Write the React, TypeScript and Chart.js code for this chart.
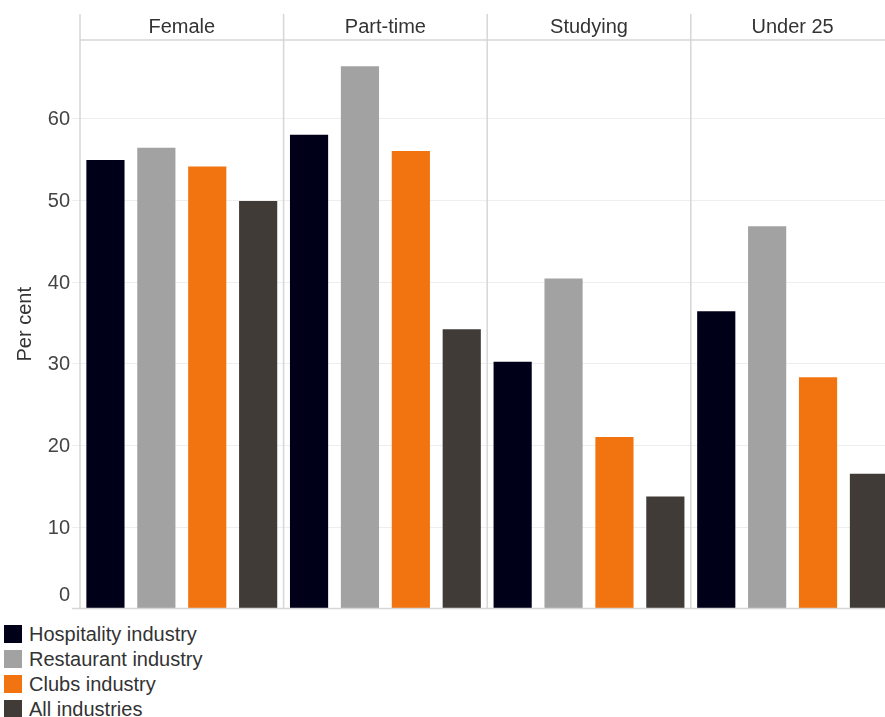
import React, { useEffect, useRef } from "react";
import { Chart, registerables } from "chart.js";

Chart.register(...registerables);

const categories = ["Female", "Part-time", "Studying", "Under 25"];
const seriesNames = ["Hospitality industry", "Restaurant industry", "Clubs industry", "All industries"];
const hospitality = [54.9, 58.0, 30.2, 36.4];
const restaurant = [56.4, 66.4, 40.4, 46.8];
const clubs = [54.1, 56.0, 21.0, 28.3];
const allIndustries = [49.9, 34.2, 13.7, 16.5];
const yTicks = [0, 10, 20, 30, 40, 50, 60];
const yTitle = "Per cent";
const colors = ["#000018", "#a2a2a2", "#f27410", "#403b37"];

const FONT = 'Arial, "Liberation Sans", sans-serif';

const panelPlugin = {
  id: "panelPlugin",
  beforeDatasetsDraw(chart: any) {
    const { ctx, chartArea } = chart;
    const y = chart.scales.y;
    ctx.save();
    ctx.strokeStyle = "#eeeeee";
    ctx.lineWidth = 1;
    yTicks.forEach((v) => {
      if (v === 0) return;
      const py = Math.round(y.getPixelForValue(v)) + 0.5;
      ctx.beginPath();
      ctx.moveTo(chartArea.left - 8, py);
      ctx.lineTo(chartArea.right, py);
      ctx.stroke();
    });
    ctx.restore();
  },
  afterDraw(chart: any) {
    const { ctx, chartArea } = chart;
    const y = chart.scales.y;
    const n = categories.length;
    const w = (chartArea.right - chartArea.left) / n;
    const headerTop = chartArea.top - 26;
    ctx.save();
    // vertical panel lines
    ctx.strokeStyle = "#d6d6d6";
    ctx.lineWidth = 1.5;
    for (let i = 0; i <= n; i++) {
      const px = chartArea.left + i * w;
      ctx.beginPath();
      ctx.moveTo(px, headerTop);
      ctx.lineTo(px, chartArea.bottom);
      ctx.stroke();
    }
    // header line
    ctx.beginPath();
    ctx.moveTo(chartArea.left, chartArea.top);
    ctx.lineTo(chartArea.right, chartArea.top);
    ctx.stroke();
    // bottom axis line
    ctx.beginPath();
    ctx.moveTo(chartArea.left - 8, chartArea.bottom);
    ctx.lineTo(chartArea.right, chartArea.bottom);
    ctx.stroke();
    // panel labels
    ctx.fillStyle = "#333333";
    ctx.font = `20px ${FONT}`;
    ctx.textAlign = "center";
    ctx.textBaseline = "alphabetic";
    categories.forEach((c, i) => {
      ctx.fillText(c, chartArea.left + (i + 0.5) * w, chartArea.top - 7);
    });
    // y tick labels
    ctx.fillStyle = "#444444";
    ctx.textAlign = "right";
    yTicks.forEach((v) => {
      const py = y.getPixelForValue(v);
      const off = v === 0 ? -8 : 7;
      ctx.fillText(String(v), chartArea.left - 10, py + off);
    });
    // y title
    ctx.save();
    ctx.translate(25, (chartArea.top + chartArea.bottom) / 2);
    ctx.rotate(-Math.PI / 2);
    ctx.textAlign = "center";
    ctx.textBaseline = "middle";
    ctx.fillStyle = "#333333";
    ctx.fillText(yTitle, 0, 0);
    ctx.restore();
    ctx.restore();
  },
};

export default function App() {
  const ref = useRef<HTMLCanvasElement | null>(null);
  useEffect(() => {
    if (!ref.current) return;
    const values = [hospitality, restaurant, clubs, allIndustries];
    const chart = new Chart(ref.current, {
      type: "bar",
      data: {
        labels: categories,
        datasets: seriesNames.map((name, i) => ({
          label: name,
          data: values[i],
          backgroundColor: colors[i],
          borderWidth: 0,
          categoryPercentage: 1,
          barPercentage: 0.75,
        })),
      },
      options: {
        animation: false,
        responsive: true,
        maintainAspectRatio: false,
        layout: { padding: { left: 80, top: 40, right: 5.6, bottom: 11.5 } },
        plugins: { legend: { display: false }, tooltip: { enabled: false } },
        scales: {
          x: { display: false },
          y: {
            display: true,
            min: 0,
            max: 69.6,
            grid: { display: false, drawTicks: false },
            border: { display: false },
            ticks: { display: false },
          },
        },
      },
      plugins: [panelPlugin],
    });
    return () => chart.destroy();
  }, []);

  return (
    <div
      style={{
        position: "absolute",
        left: 0,
        top: 0,
        width: 885,
        height: 717,
        overflow: "hidden",
        background: "#ffffff",
        fontFamily: FONT,
      }}
    >
      <div style={{ position: "absolute", left: 0, top: 0, width: 900, height: 620 }}>
        <canvas ref={ref} />
      </div>
      <div style={{ position: "absolute", left: 4, top: 621.5 }}>
        {seriesNames.map((name, i) => (
          <div
            key={name}
            style={{ display: "flex", alignItems: "center", height: 25, fontSize: 20, color: "#333333" }}
          >
            <span style={{ display: "inline-block", width: 18, height: 18, background: colors[i], marginRight: 7 }} />
            <span style={{ lineHeight: "25px", whiteSpace: "nowrap" }}>{name}</span>
          </div>
        ))}
      </div>
    </div>
  );
}
